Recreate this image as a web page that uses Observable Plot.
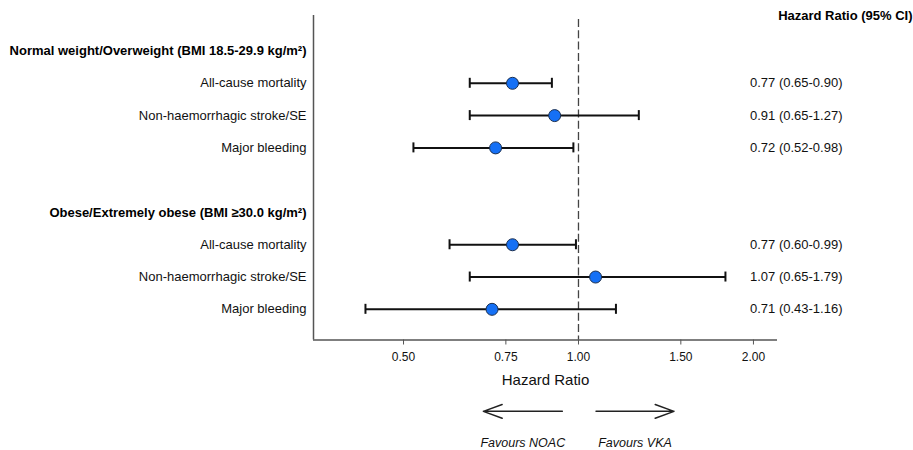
<!DOCTYPE html>
<html><head><meta charset="utf-8">
<script src="https://cdn.jsdelivr.net/npm/d3@7"></script>
<script src="https://cdn.jsdelivr.net/npm/@observablehq/plot@0.6"></script>
<style>
body{margin:0;background:#fff}
#chart svg{font-family:"Liberation Sans",Arial,sans-serif;overflow:visible;background:#fff}
</style>
</head><body><div id="chart"></div>
<script>
const groups = ["Normal weight/Overweight (BMI 18.5-29.9 kg/m²)", "Obese/Extremely obese (BMI ≥30.0 kg/m²)"];
const outcomes = ["All-cause mortality", "Non-haemorrhagic stroke/SE", "Major bleeding"];
const hrNormal = [0.77, 0.91, 0.72];
const loNormal = [0.65, 0.65, 0.52];
const hiNormal = [0.90, 1.27, 0.98];
const hrObese = [0.77, 1.07, 0.71];
const loObese = [0.60, 0.65, 0.43];
const hiObese = [0.99, 1.79, 1.16];
const xTicks = [0.50, 0.75, 1.00, 1.50, 2.00];
const favours = [
  {from: 0.938, to: 0.686, label: "Favours NOAC"},
  {from: 1.072, to: 1.46, label: "Favours VKA"}
];

const hrAll = [hrNormal, hrObese], loAll = [loNormal, loObese], hiAll = [hiNormal, hiObese];
const rows = [];
groups.forEach((g, gi) => outcomes.forEach((o, oi) => rows.push({
  group: g, outcome: o, pos: gi * 5 + 2 + oi,
  hr: hrAll[gi][oi], lo: loAll[gi][oi], hi: hiAll[gi][oi]
})));
const headers = groups.map((g, gi) => ({label: g, pos: gi * 5 + 1}));
const xDomain = [0.35, 2.2];
const yDomain = [-0.1, 9.95];
const f2 = d => d.toFixed(2);

const chart = Plot.plot({
  width: 913, height: 450,
  marginLeft: 313, marginRight: 136, marginTop: 15, marginBottom: 110.5,
  x: {type: "log", domain: xDomain},
  y: {type: "linear", domain: yDomain, reverse: true, axis: null},
  marks: [
    Plot.ruleX([xDomain[0]], {stroke: "#555", strokeWidth: 1.5}),
    Plot.ruleY([yDomain[1]], {stroke: "#555", strokeWidth: 1.5}),
    Plot.ruleX([1], {stroke: "#444", strokeWidth: 1.3, strokeDasharray: "8,3.3", insetTop: 4}),
    Plot.axisX({ticks: xTicks, tickFormat: f2, tickSize: 5, tickPadding: 7, fontSize: 12, label: null, stroke: "#555", fill: "#111"}),
    Plot.link(rows, {x1: "lo", x2: "hi", y1: "pos", y2: "pos", stroke: "#111", strokeWidth: 2}),
    Plot.ruleX(rows, {x: "lo", y1: "pos", y2: "pos", insetTop: -5, insetBottom: -5, stroke: "#111", strokeWidth: 2}),
    Plot.ruleX(rows, {x: "hi", y1: "pos", y2: "pos", insetTop: -5, insetBottom: -5, stroke: "#111", strokeWidth: 2}),
    Plot.dot(rows, {x: "hr", y: "pos", r: 6, fill: "#1570F5", stroke: "#1b2f4f", strokeWidth: 1}),
    Plot.text(rows, {y: "pos", text: "outcome", frameAnchor: "left", dx: -7, textAnchor: "end", fontSize: 13, fill: "#111"}),
    Plot.text(headers, {y: "pos", text: "label", frameAnchor: "left", dx: -7, textAnchor: "end", fontSize: 13, fontWeight: "bold", fill: "#000"}),
    Plot.text(rows, {y: "pos", text: d => `${f2(d.hr)} (${f2(d.lo)}-${f2(d.hi)})`, frameAnchor: "right", dx: 65, fontSize: 13, fill: "#111"}),
    Plot.text(["Hazard Ratio (95% CI)"], {frameAnchor: "top-right", dx: 135, textAnchor: "end", lineAnchor: "middle", fontSize: 13, fontWeight: "bold", fill: "#000"}),
    Plot.text(["Hazard Ratio"], {frameAnchor: "bottom", dy: 40.5, lineAnchor: "middle", fontSize: 15, fill: "#111"}),
    Plot.arrow(favours, {x1: "from", x2: "to", y1: 12.16, y2: 12.16, stroke: "#222", strokeWidth: 1.5, headLength: 20, headAngle: 40}),
    Plot.text(favours, {x: d => Math.sqrt(d.from * d.to), y: 13.15, text: "label", fontSize: 12.5, fontStyle: "italic", fill: "#111"})
  ]
});
document.getElementById("chart").append(chart);
</script>
</body></html>
